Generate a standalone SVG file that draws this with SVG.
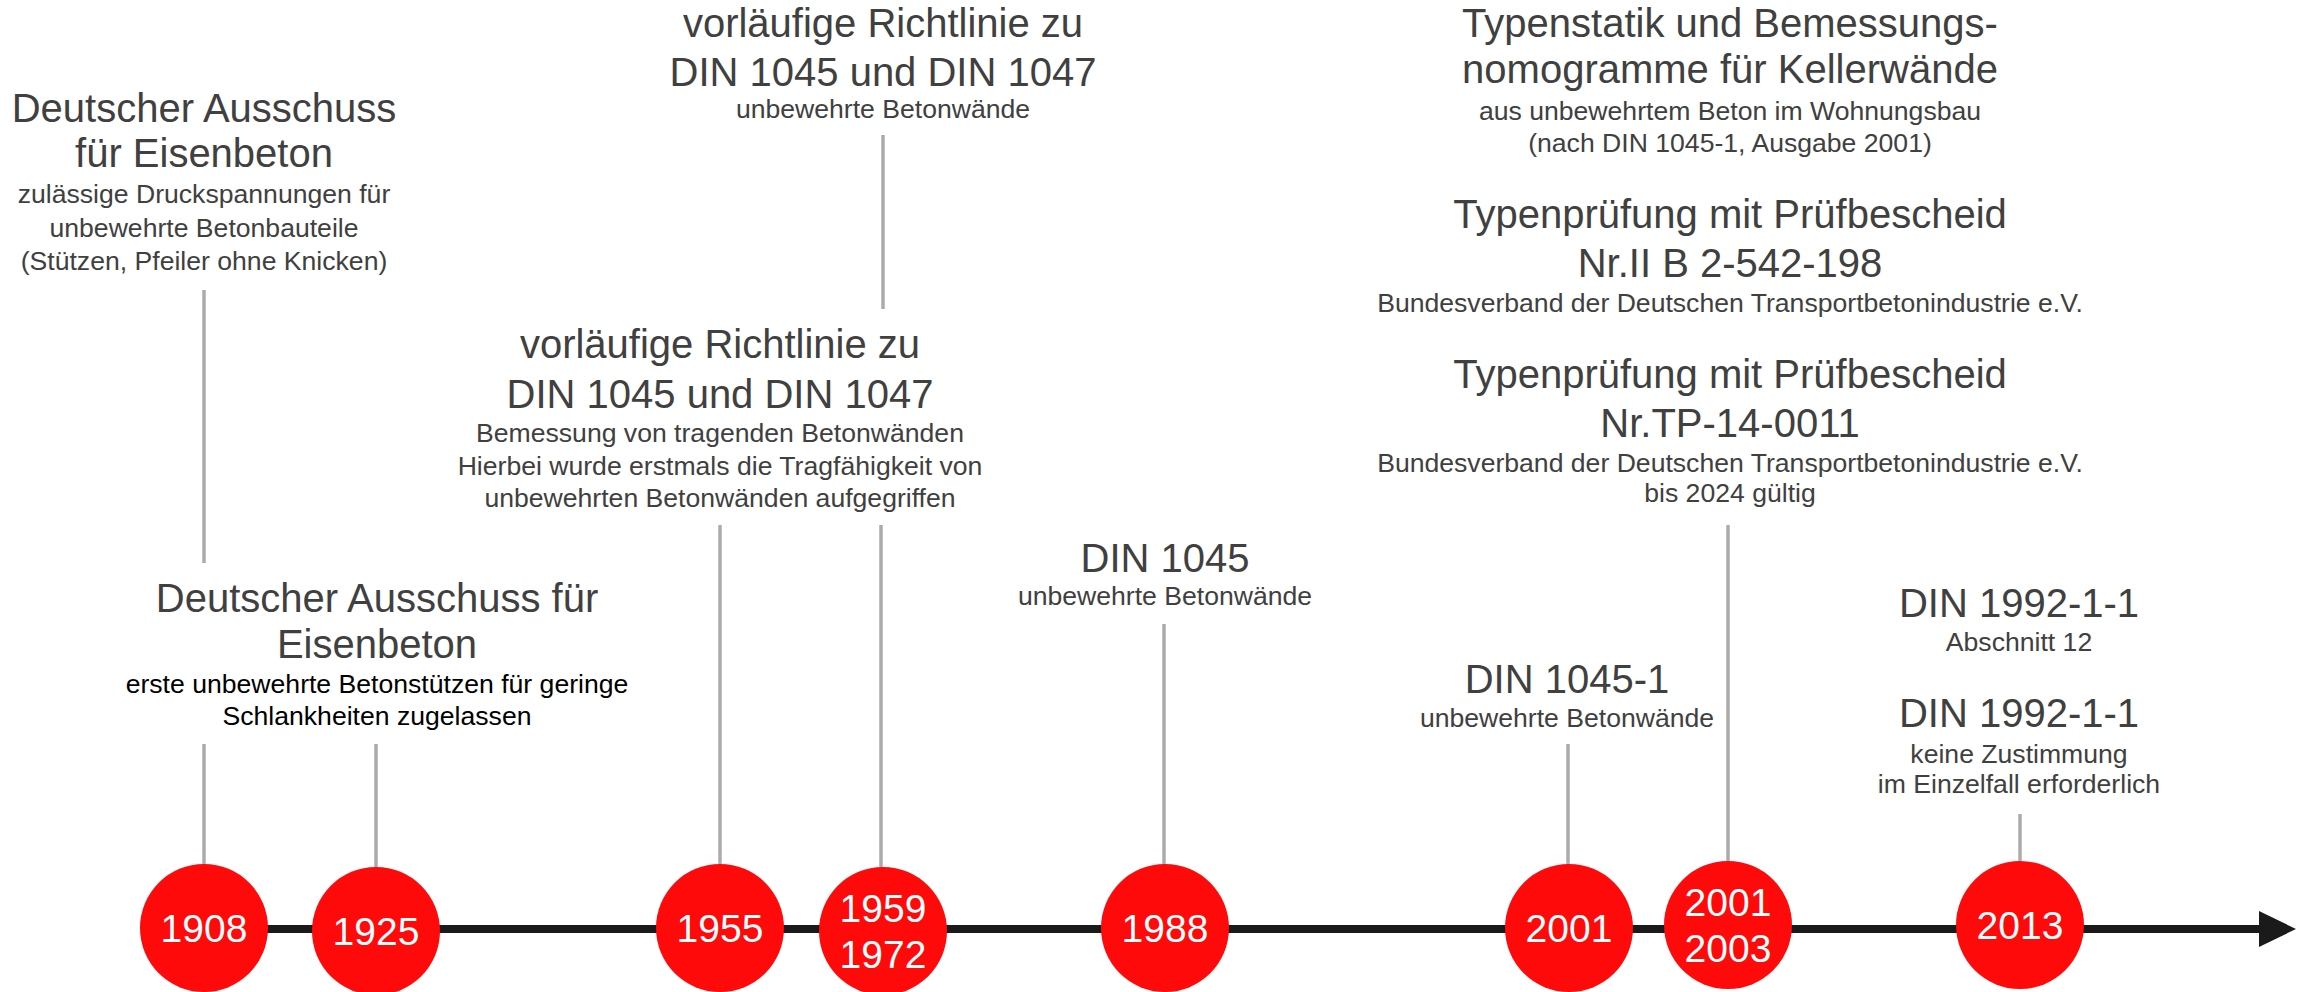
<svg xmlns="http://www.w3.org/2000/svg" width="2305" height="992" viewBox="0 0 2305 992">
<style>
text{font-family:"Liberation Sans",Arial,sans-serif;text-anchor:middle}
.t{font-size:40px;fill:#404040}
.s{font-size:26.6px;fill:#404040}
.k{font-size:26.6px;fill:#000}
.y{font-size:39px;fill:#fff}
.c{fill:#fe0a0a}
.v{stroke:#ababab;stroke-width:3.5;fill:none}
</style>
<rect width="2305" height="992" fill="#fff"/>
<g id="connectors">
<line x1="204" y1="929" x2="2262" y2="929" stroke="#1a1a1a" stroke-width="8"/>
<polygon points="2259,911 2296,929 2259,947" fill="#1a1a1a"/>
<line class="v" x1="204" y1="290" x2="204" y2="563"/>
<line class="v" x1="204" y1="744" x2="204" y2="866"/>
<line class="v" x1="376" y1="744" x2="376" y2="868"/>
<line class="v" x1="720" y1="525" x2="720" y2="866"/>
<line class="v" x1="883" y1="135" x2="883" y2="309"/>
<line class="v" x1="881" y1="525" x2="881" y2="868"/>
<line class="v" x1="1164" y1="624" x2="1164" y2="866"/>
<line class="v" x1="1568" y1="744" x2="1568" y2="866"/>
<line class="v" x1="1728" y1="525" x2="1728" y2="863"/>
<line class="v" x1="2020" y1="814" x2="2020" y2="863"/>
</g>
<g id="n1908">
<circle class="c" cx="204" cy="928" r="64"/>
<text class="y" x="204" y="942">1908</text>
<text class="t" x="204" y="122">Deutscher Ausschuss</text>
<text class="t" x="204" y="167">für Eisenbeton</text>
<text class="s" x="204" y="203">zulässige Druckspannungen für</text>
<text class="s" x="204" y="237">unbewehrte Betonbauteile</text>
<text class="s" x="204" y="270">(Stützen, Pfeiler ohne Knicken)</text>
</g>
<g id="n1925">
<circle class="c" cx="376" cy="931" r="64"/>
<text class="y" x="376" y="945">1925</text>
<text class="t" x="377" y="612">Deutscher Ausschuss für</text>
<text class="t" x="377" y="658">Eisenbeton</text>
<text class="k" x="377" y="693">erste unbewehrte Betonstützen für geringe</text>
<text class="k" x="377" y="725">Schlankheiten zugelassen</text>
</g>
<g id="n1955">
<circle class="c" cx="720" cy="928" r="64"/>
<text class="y" x="720" y="942">1955</text>
<text class="t" x="720" y="358">vorläufige Richtlinie zu</text>
<text class="t" x="720" y="408">DIN 1045 und DIN 1047</text>
<text class="s" x="720" y="442">Bemessung von tragenden Betonwänden</text>
<text class="s" x="720" y="475">Hierbei wurde erstmals die Tragfähigkeit von</text>
<text class="s" x="720" y="507">unbewehrten Betonwänden aufgegriffen</text>
</g>
<g id="n1959">
<circle class="c" cx="883" cy="931" r="64"/>
<text class="y" x="883" y="922">1959</text>
<text class="y" x="883" y="968">1972</text>
<text class="t" x="883" y="37">vorläufige Richtlinie zu</text>
<text class="t" x="883" y="86">DIN 1045 und DIN 1047</text>
<text class="s" x="883" y="118">unbewehrte Betonwände</text>
</g>
<g id="n1988">
<circle class="c" cx="1165" cy="928" r="64"/>
<text class="y" x="1165" y="942">1988</text>
<text class="t" x="1165" y="572">DIN 1045</text>
<text class="s" x="1165" y="605">unbewehrte Betonwände</text>
</g>
<g id="n2001">
<circle class="c" cx="1569" cy="928" r="64"/>
<text class="y" x="1569" y="942">2001</text>
<text class="t" x="1567" y="693">DIN 1045-1</text>
<text class="s" x="1567" y="727">unbewehrte Betonwände</text>
</g>
<g id="n2001-2003">
<circle class="c" cx="1728" cy="925" r="64"/>
<text class="y" x="1728" y="916">2001</text>
<text class="y" x="1728" y="962">2003</text>
<text class="t" x="1730" y="37">Typenstatik und Bemessungs-</text>
<text class="t" x="1730" y="83">nomogramme für Kellerwände</text>
<text class="s" x="1730" y="120">aus unbewehrtem Beton im Wohnungsbau</text>
<text class="s" x="1730" y="152">(nach DIN 1045-1, Ausgabe 2001)</text>
<text class="t" x="1730" y="228">Typenprüfung mit Prüfbescheid</text>
<text class="t" x="1730" y="277">Nr.II B 2-542-198</text>
<text class="s" x="1730" y="312">Bundesverband der Deutschen Transportbetonindustrie e.V.</text>
<text class="t" x="1730" y="388">Typenprüfung mit Prüfbescheid</text>
<text class="t" x="1730" y="437">Nr.TP-14-0011</text>
<text class="s" x="1730" y="472">Bundesverband der Deutschen Transportbetonindustrie e.V.</text>
<text class="s" x="1730" y="502">bis 2024 gültig</text>
</g>
<g id="n2013">
<circle class="c" cx="2020" cy="925" r="64"/>
<text class="y" x="2020" y="939">2013</text>
<text class="t" x="2019" y="617">DIN 1992-1-1</text>
<text class="s" x="2019" y="651">Abschnitt 12</text>
<text class="t" x="2019" y="727">DIN 1992-1-1</text>
<text class="s" x="2019" y="763">keine Zustimmung</text>
<text class="s" x="2019" y="793">im Einzelfall erforderlich</text>
</g>
</svg>
